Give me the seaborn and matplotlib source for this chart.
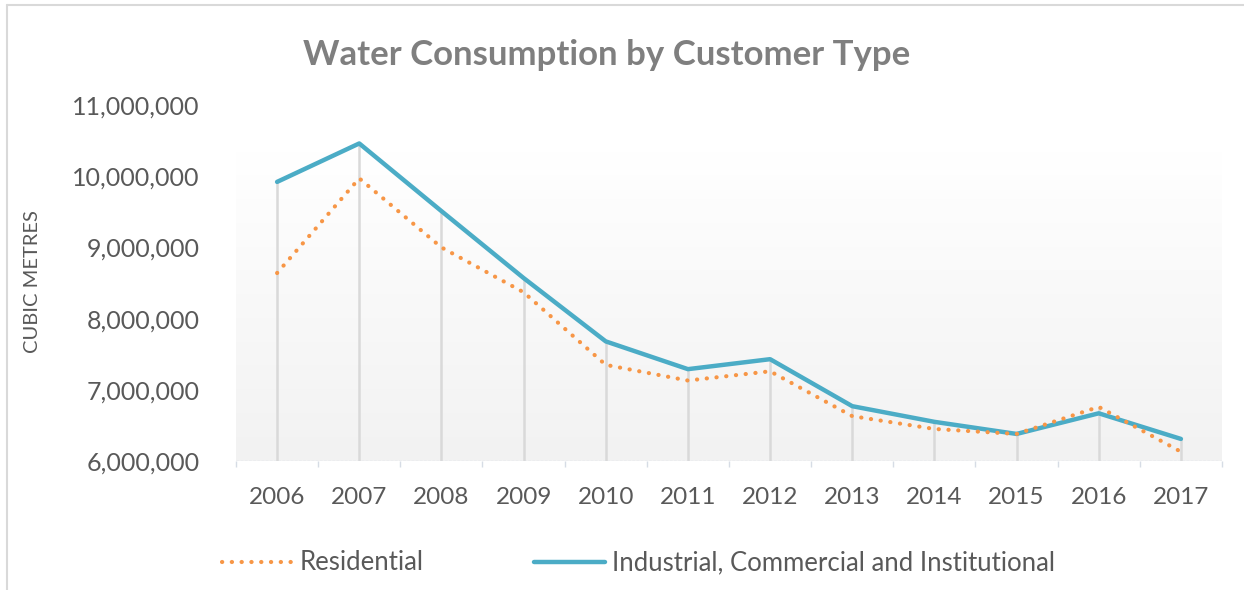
import matplotlib
matplotlib.use("Agg")
import matplotlib.pyplot as plt
import matplotlib.ticker as mticker
from matplotlib.colors import LinearSegmentedColormap
import numpy as np
import pandas as pd
import seaborn as sns

years = [2006, 2007, 2008, 2009, 2010, 2011, 2012, 2013, 2014, 2015, 2016, 2017]
residential = [8640000, 9970000, 9000000, 8370000, 7350000, 7130000, 7260000,
               6630000, 6450000, 6380000, 6760000, 6130000]
industrial = [9920000, 10460000, 9510000, 8570000, 7680000, 7290000, 7430000,
              6770000, 6550000, 6380000, 6670000, 6310000]
y_ticks = [6000000, 7000000, 8000000, 9000000, 10000000, 11000000]
title = "Water Consumption by Customer Type"
y_label = "CUBIC METRES"
series_names = ["Residential", "Industrial, Commercial and Institutional"]

sns.set_theme(style="white")
plt.rcParams["font.family"] = ["Lato", "DejaVu Sans"]

TEXT = "#595959"
ORANGE = "#F79646"
BLUE = "#4BACC6"

fig = plt.figure(figsize=(12.44, 5.90), dpi=100)
ax = fig.add_axes([236 / 1244, 1 - 461 / 590, (1222 - 236) / 1244, (461 - 105) / 590])

df = pd.DataFrame({"year": years, "res": residential, "ind": industrial})

# gradient plot-area background
cmap = LinearSegmentedColormap.from_list("g", ["#f2f2f2", "#ffffff"])
grad = np.linspace(0, 1, 256).reshape(-1, 1)
ax.imshow(grad, extent=[2005.5, 2017.5, 6000000, 10350000], aspect="auto",
          cmap=cmap, origin="lower", zorder=0)

# drop lines
tops = np.maximum(np.array(residential), np.array(industrial))
ax.vlines(years, y_ticks[0], tops, colors="#d9d9d9", linewidth=1.8, zorder=1)

sns.lineplot(data=df, x="year", y="res", ax=ax, color=ORANGE, linewidth=3.0,
             label=series_names[0], zorder=3)
sns.lineplot(data=df, x="year", y="ind", ax=ax, color=BLUE, linewidth=3.2,
             label=series_names[1], zorder=2)
l_res = ax.lines[0]
l_res.set_linestyle((0, (0.05, 2.3)))
l_res.set_dash_capstyle("round")
ax.lines[1].set_solid_capstyle("round")

ax.set_xlim(2005.5, 2017.5)
ax.set_ylim(y_ticks[0], y_ticks[-1])
ax.set_xticks(years)
ax.set_xticklabels([str(y) for y in years])
ax.set_yticks(y_ticks)
ax.yaxis.set_major_formatter(mticker.FuncFormatter(lambda v, p: f"{int(v):,}"))
ax.xaxis.set_minor_locator(mticker.FixedLocator(np.arange(2005.5, 2018, 1.0)))
ax.tick_params(axis="x", which="major", length=0, pad=19, labelsize=17.5, labelcolor=TEXT)
ax.tick_params(axis="x", which="minor", length=4, width=1, color="#d6dce5", bottom=True)
ax.tick_params(axis="y", length=0, pad=26, labelsize=18, labelcolor=TEXT)
for s in ax.spines.values():
    s.set_visible(False)
ax.axhline(y_ticks[0], color="#d6dce5", linewidth=1.0, linestyle=(0, (2, 1)), zorder=1)
ax.set_xlabel("")
ax.set_ylabel("")
ax.grid(False)

fig.text(607 / 1244, 1 - 55 / 590, title, ha="center", va="center",
         fontsize=25, fontweight="bold", color="#7f7f7f")
fig.text(33 / 1244, 1 - 282 / 590, y_label, ha="center", va="center",
         rotation=90, fontsize=14.5, color=TEXT)

handles, labels = ax.get_legend_handles_labels()
if ax.legend_:
    ax.legend_.remove()
leg = fig.legend(handles, labels, loc="center left",
                 bbox_to_anchor=(222 / 1244, 1 - 563 / 590), ncol=2, frameon=False,
                 fontsize=18.5, handlelength=2.76, handletextpad=0.27,
                 columnspacing=4.28, borderpad=0, borderaxespad=0)
for t in leg.get_texts():
    t.set_color(TEXT)

# chart border (left and top)
fig.add_artist(plt.Line2D([7 / 1244, 7 / 1244], [0, 1 - 5 / 590], color="#d9d9d9",
                          linewidth=1.5, transform=fig.transFigure))
fig.add_artist(plt.Line2D([7 / 1244, 1], [1 - 5 / 590, 1 - 5 / 590], color="#d9d9d9",
                          linewidth=1.5, transform=fig.transFigure))

fig.savefig("out.png", dpi=100)
